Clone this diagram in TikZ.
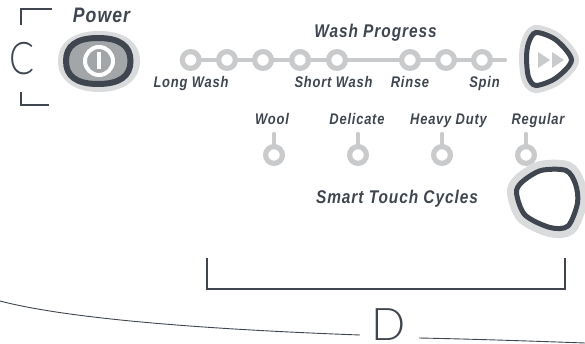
\documentclass[tikz,border=0pt]{standalone}
\usepackage{graphicx}
\usepackage{fontspec}
\setmainfont{Liberation Sans}
\newfontfamily\labf[LetterSpace=6]{Liberation Sans}
\newfontfamily\thinf{Lato Light}
\newfontfamily\thinc[FakeStretch=0.82]{Lato Light}
\newcommand{\cond}[1]{\scalebox{0.84}[1]{#1}}
\definecolor{ink}{HTML}{3F4650}
\definecolor{lite}{HTML}{DADBDC}
\definecolor{mid}{HTML}{C8CACC}
\definecolor{btn}{HTML}{A3A6A9}
\tikzset{
 lab/.style={font=\labf\bfseries\itshape\fontsize{15.4}{17}\selectfont,text=ink,inner sep=0pt,anchor=base},
 labbig/.style={font=\labf\bfseries\itshape\fontsize{18.4}{20}\selectfont,text=ink,inner sep=0pt,anchor=base},
 ringc/.style={draw=mid,line width=5.2pt,fill=white},
 link/.style={draw=mid,line width=4.4pt,line cap=round},
 callout/.style={draw=ink,line width=1.5pt},
 thin/.style={draw=ink,line width=.9pt},
 letter/.style={text=ink,inner sep=0pt,anchor=base},
}
\begin{document}
\begin{tikzpicture}[x=1pt,y=-1pt]
\useasboundingbox (0,0) rectangle (585,344);
% C bracket
\draw[callout] (21,25) -- (21,9) -- (52,9);
\draw[callout] (21,92) -- (21,105) -- (49,105);
\node[letter,font=\thinc\fontsize{45}{45}\selectfont] (cmark) at (22,75) {C};
% Power button
\path[fill=lite] (99,31) .. controls (124,31) and (140,42) .. (140,61) .. controls (140,80) and (124,92) .. (99,92) .. controls (74,92) and (58,80) .. (58,61) .. controls (58,42) and (74,31) .. (99,31) -- cycle;
\path[fill=btn,draw=ink,line width=6pt] (98,38) .. controls (120,38) and (130.5,46) .. (130.5,61) .. controls (130.5,76) and (120,84) .. (98,84) .. controls (76,84) and (66,76) .. (66,61) .. controls (66,46) and (76,38) .. (98,38) -- cycle;
\draw[draw=white,line width=4pt,fill=none] (99,61) circle (14);
\draw[draw=white,line width=4.5pt] (99,52) -- (99,69);
\node[labbig,font=\labf\bfseries\itshape\fontsize{21}{22}\selectfont] (power) at (101.5,23) {\cond{Power}};
% chain
\foreach \a/\b in {190.7/227,227/263,263/300,300/337,337/410,410/446,446/482}{
 \draw[link] (\a,60) -- (\b,60);}
\draw[link] (482,60) -- (505,60);
\foreach \x in {190.7,227,263,300,337,410,446,482}{
 \draw[ringc] (\x,60) circle (8.4);}
\node[labbig] (wp) at (375.5,38) {\cond{Wash Progress}};
\node[lab] (lw) at (191,88) {\cond{Long Wash}};
\node[lab] (sw) at (333.5,88) {\cond{Short Wash}};
\node[lab] (ri) at (410,88) {\cond{Rinse}};
\node[lab] (sp) at (484.5,88) {\cond{Spin}};
% Skip button
\draw[draw=lite,line width=15pt] plot[smooth cycle] coordinates {(526.5,58)(528.5,43)(536,32.5)(556,40)(571.5,60)(556,78)(536,85.5)(528.5,77)};
\draw[draw=ink,fill=white,line width=5pt] plot[smooth cycle] coordinates {(526.5,58)(528.5,43)(536,32.5)(556,40)(571.5,60)(556,78)(536,85.5)(528.5,77)};
\path[fill=mid] (538,52) -- (550,60) -- (538,68) -- cycle;
\path[fill=mid] (552,52) -- (564,60) -- (552,68) -- cycle;
% cycle options
\node[lab] (wo) at (272,124.5) {\cond{Wool}};
\node[lab] (de) at (357,124.5) {\cond{Delicate}};
\node[lab] (hd) at (448.5,124.5) {\cond{Heavy Duty}};
\node[lab] (re) at (538,124.5) {\cond{Regular}};
\foreach \x in {274,358,442,526}{
 \draw[link] (\x,134) -- (\x,150);
 \draw[ringc] (\x,155) circle (8.4);}
\node[labbig] (st) at (397,204) {\cond{Smart Touch Cycles}};
% Smart Touch button
\draw[draw=lite,line width=19pt] plot[smooth cycle] coordinates {(516.5,193)(525,215)(550,227.5)(568,226)(577.5,203)(575.5,184)(566,170.5)(541,170.5)(522,182)};
\draw[draw=ink,fill=white,line width=5pt] plot[smooth cycle] coordinates {(516.5,193)(525,215)(550,227.5)(568,226)(577.5,203)(575.5,184)(566,170.5)(541,170.5)(522,182)};
% D bracket
\draw[callout] (207,258) -- (207,289) -- (565,289) -- (565,258);
\draw[thin] (0,301) .. controls (80,322) and (250,331) .. (360,335);
\draw[thin] (419,338) .. controls (470,339) and (530,341) .. (585,343);
\node[letter,font=\thinf\fontsize{45}{45}\selectfont] (dmark) at (389,340) {D};
\end{tikzpicture}
\end{document}
